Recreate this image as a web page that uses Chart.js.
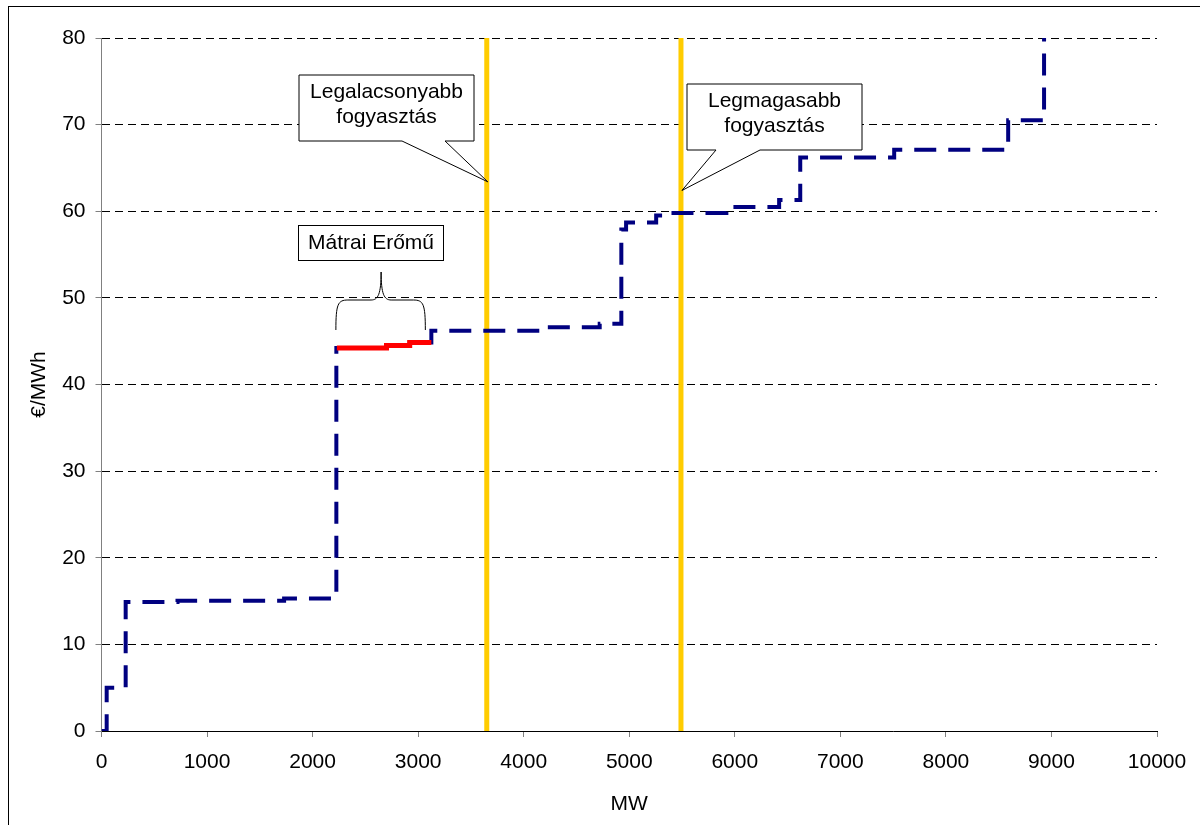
<!DOCTYPE html>
<html>
<head>
<meta charset="utf-8">
<script src="https://cdn.jsdelivr.net/npm/chart.js@4.4.0/dist/chart.umd.min.js"></script>
<style>
    html, body { margin: 0; padding: 0; background: #fff; }
    #wrap { width: 1200px; height: 825px; position: relative; }
</style>
</head>
<body>
<div id="wrap"><canvas id="meritChart"></canvas></div>
<script>
/**************** DATA ****************/
// supply curve (MW, €/MWh) - stepped
const supplyMW    = [0, 49, 229, 720, 1730, 2225, 2700, 2920, 3125, 4180, 4720, 4925, 4970, 5255, 5400, 5920, 6420, 6620, 7510, 8590, 8930];
const supplyPrice = [0, 5, 14.9, 15.05, 15.3, 44.2, 44.5, 44.85, 46.2, 46.6, 47.0, 57.9, 58.7, 59.5, 59.8, 60.5, 61.3, 66.2, 67.1, 70.5, 80];

// Mátrai Erőmű part of the curve
const matraMW    = [2230, 2700, 2920, 3125];
const matraPrice = [44.2, 44.5, 44.85, 44.85];

// demand lines
const lowDemandMW  = 3650;
const highDemandMW = 5490;
const priceRange   = [0, 80];

const xTicksMax = 10000;
const yTicksMax = 80;

/**************** HELPERS ****************/
const toPoints = (xs, ys) => xs.map((x, i) => ({ x: x, y: ys[i] }));
const FONT = "Arial, 'Liberation Sans', sans-serif";

/**************** ANNOTATIONS ****************/
function callout(ctx, box, tip, base, lines) {
    ctx.save();
    ctx.fillStyle = "#fff";
    ctx.strokeStyle = "#000";
    ctx.lineWidth = 1;
    ctx.beginPath();
    ctx.moveTo(box.l, box.t);
    ctx.lineTo(box.r, box.t);
    ctx.lineTo(box.r, box.b);
    ctx.lineTo(base[1], box.b);
    ctx.lineTo(tip.x, tip.y);
    ctx.lineTo(base[0], box.b);
    ctx.lineTo(box.l, box.b);
    ctx.closePath();
    ctx.fill();
    ctx.stroke();
    ctx.fillStyle = "#000";
    ctx.font = "21px " + FONT;
    ctx.textAlign = "center";
    ctx.textBaseline = "middle";
    const cx = (box.l + box.r) / 2;
    lines.forEach((t, i) => ctx.fillText(t, cx, box.t + 17 + i * 25));
    ctx.restore();
}

const annotations = {
    id: "annotations",
    afterDatasetsDraw(chart) {
        const ctx = chart.ctx;
        const xs = chart.scales.x, ys = chart.scales.y;

        // frame
        ctx.save();
        ctx.strokeStyle = "#000";
        ctx.lineWidth = 1;
        ctx.strokeRect(8.5, 6.5, 1300, 900);
        ctx.restore();

        const lowX = xs.getPixelForValue(lowDemandMW);
        const highX = xs.getPixelForValue(highDemandMW);

        callout(ctx, { l: 299, t: 75, r: 474, b: 141 }, { x: lowX + 1, y: ys.getPixelForValue(63.4) },
            [402, 445], ["Legalacsonyabb", "fogyasztás"]);
        callout(ctx, { l: 687, t: 84, r: 862, b: 150 }, { x: highX + 1, y: ys.getPixelForValue(62.4) },
            [716, 760], ["Legmagasabb", "fogyasztás"]);

        // Mátrai box
        ctx.save();
        ctx.fillStyle = "#fff";
        ctx.strokeStyle = "#000";
        ctx.lineWidth = 1;
        ctx.fillRect(298.5, 225.5, 145, 35);
        ctx.strokeRect(298.5, 225.5, 145, 35);
        ctx.fillStyle = "#000";
        ctx.font = "21px " + FONT;
        ctx.textAlign = "center";
        ctx.textBaseline = "middle";
        ctx.fillText("Mátrai Erőmű", 371, 243);

        // curly brace over the red part
        const bl = xs.getPixelForValue(matraMW[0]) - 1;
        const br = xs.getPixelForValue(matraMW[matraMW.length - 1]) - 6;
        const mid = (bl + br) / 2 + 0.5;
        const yb = 330, yh = 300, yt = 272;
        ctx.beginPath();
        ctx.moveTo(bl, yb);
        ctx.bezierCurveTo(bl, yh + 4, bl + 2, yh, bl + 12, yh);
        ctx.lineTo(mid - 10, yh);
        ctx.bezierCurveTo(mid - 3, yh, mid, yh - 6, mid, yt);
        ctx.bezierCurveTo(mid, yh - 6, mid + 3, yh, mid + 10, yh);
        ctx.lineTo(br - 12, yh);
        ctx.bezierCurveTo(br - 2, yh, br, yh + 4, br, yb);
        ctx.stroke();
        ctx.restore();
    }
};

/**************** CHART ****************/
const meritChart = new Chart(document.getElementById("meritChart"), {
    type: "line",
    data: {
        datasets: [
            {
                label: "Mátrai Erőmű",
                data: toPoints(matraMW, matraPrice),
                borderColor: "#FF0000",
                borderWidth: 5,
                stepped: "before",
                pointRadius: 0
            },
            {
                label: "Kínálat",
                data: toPoints(supplyMW, supplyPrice),
                borderColor: "#000080",
                borderWidth: 4,
                borderDash: [22, 12],
                borderCapStyle: "butt",
                stepped: "before",
                pointRadius: 0
            },
            {
                label: "Legalacsonyabb fogyasztás",
                data: toPoints([lowDemandMW, lowDemandMW], priceRange),
                borderColor: "#FFCC00",
                borderWidth: 5,
                pointRadius: 0
            },
            {
                label: "Legmagasabb fogyasztás",
                data: toPoints([highDemandMW, highDemandMW], priceRange),
                borderColor: "#FFCC00",
                borderWidth: 5,
                pointRadius: 0
            }
        ]
    },
    options: {
        responsive: true,
        maintainAspectRatio: false,
        animation: false,
        layout: { padding: { left: 8, right: 43, top: 38, bottom: 0 } },
        plugins: {
            legend: { display: false },
            tooltip: { enabled: false }
        },
        scales: {
            x: {
                type: "linear",
                min: 0,
                max: xTicksMax,
                afterFit(scale) { scale.height = 94; },
                ticks: {
                    stepSize: 1000,
                    color: "#000",
                    font: { family: FONT, size: 21 },
                    padding: 13,
                    maxRotation: 0,
                    callback: v => String(v)
                },
                grid: {
                    drawOnChartArea: false,
                    drawTicks: true,
                    tickLength: 6,
                    tickColor: "#808080"
                },
                border: { color: "#000", width: 1 },
                title: {
                    display: true,
                    text: "MW",
                    color: "#000",
                    font: { family: FONT, size: 21 },
                    padding: { top: 0, bottom: 8 }
                }
            },
            y: {
                min: 0,
                max: yTicksMax,
                afterFit(scale) { scale.width = 93.5; },
                ticks: {
                    stepSize: 10,
                    color: "#000",
                    font: { family: FONT, size: 21 },
                    padding: 10,
                    callback: v => String(v)
                },
                grid: {
                    color: "#000",
                    lineWidth: 1,
                    tickLength: 6,
                    tickColor: "#808080",
                    tickBorderDash: []
                },
                border: { color: "#808080", width: 1, dash: [8, 5] },
                title: {
                    display: true,
                    text: "€/MWh",
                    color: "#000",
                    font: { family: FONT, size: 21 },
                    padding: { top: 19, bottom: 0 }
                }
            }
        }
    },
    plugins: [annotations]
});
</script>
</body>
</html>
